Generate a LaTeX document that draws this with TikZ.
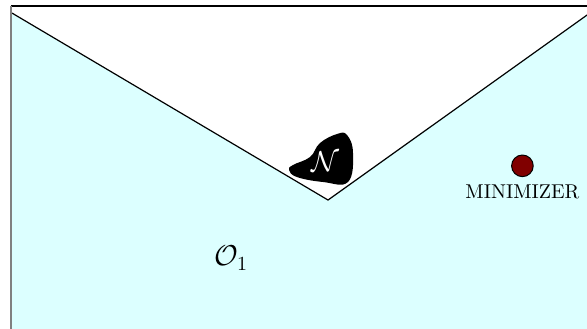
\documentclass[tikz,border=0pt]{standalone}
\usepackage{amsmath}
\usetikzlibrary{positioning}
\definecolor{domcyan}{RGB}{220,255,255}
\definecolor{minred}{RGB}{128,0,0}

\begin{document}
\begin{tikzpicture}[thick]
    \useasboundingbox (0,0) rectangle (10.315,5.764);
    \begin{scope}
    \clip (0,0) rectangle (10.315,5.764);

    % Domain O_1 (below the V)
    \fill[domcyan] (0.2,-0.1) -- (0.2,5.535) -- (5.764,2.249) -- (10.4,5.56) -- (10.4,-0.1) -- cycle;

    % V-shaped boundary
    \draw[line width=0.6pt] (0.21,5.535) -- (5.764,2.249) -- (10.4,5.56);

    % Box edges
    \draw[line width=1.2pt] (0.2,5.658) -- (10.4,5.658);
    \draw[gray, line width=1pt] (0.2,5.658) -- (0.2,-0.1);

    % Neighbourhood N
    \fill[black] plot[smooth cycle, tension=0.7] coordinates {
        (5.079,2.777) (5.219,2.653) (5.676,2.566) (6.115,2.566)
        (6.203,3.075) (6.098,3.392) (5.922,3.409) (5.623,3.251)
        (5.448,3.005) (5.149,2.865)};
    \node[white] (nbhd) at (5.711,2.917) {\Large $\mathcal{N}$};

    % Minimizer
    \node[circle, draw=black, fill=minred, line width=0.5pt, minimum size=0.38cm, inner sep=0pt] (mini) at (9.18,2.85) {};
    \node[below=0pt of mini, font=\normalsize] (minilabel) {MINIMIZER};

    % Label
    \node (omega) at (4.06,1.23) {\Large $\mathcal{O}_1$};
    \end{scope}
\end{tikzpicture}
\end{document}
